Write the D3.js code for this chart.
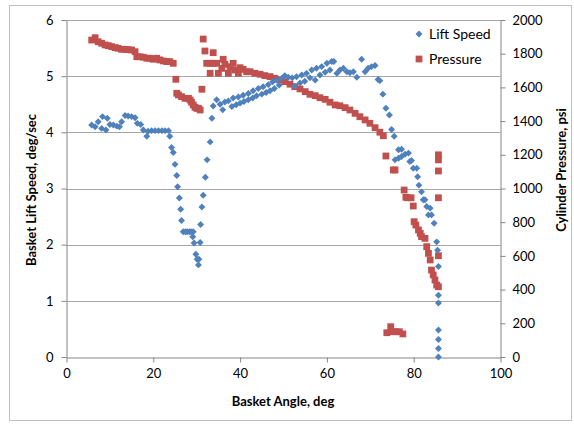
<!DOCTYPE html>
<html>
<head>
<meta charset="utf-8">
<script src="https://cdn.jsdelivr.net/npm/d3@7"></script>
<style>
  body { margin: 0; background: #fff; }
  text { font-family: Lato, "Open Sans", sans-serif; fill: #000; }
</style>
</head>
<body>
<svg width="574" height="424"></svg>
<script>
// lift speed series (deg, deg/sec)
const liftAngle = [5.8,6.6,7.3,8.1,8.3,9.1,9.4,10.0,10.8,11.6,12.2,12.7,13.5,14.2,15.0,15.8,16.3,17.1,17.7,18.5,18.8,19.6,20.4,21.2,22.0,22.7,23.5,23.8,24.2,24.6,25.0,25.4,25.6,26.0,26.3,26.5,26.9,27.4,27.8,28.3,28.7,29.2,29.1,29.4,29.8,30.1,30.5,30.4,30.8,30.9,31.2,31.5,32.0,32.4,33.1,33.5,33.8,34.6,35.4,36.0,36.5,37.3,38.1,38.4,39.1,39.6,40.0,40.7,40.9,41.9,41.9,42.9,43.0,43.8,44.2,45.0,45.3,46.0,46.5,46.9,47.5,47.9,48.4,49.0,49.6,50.3,51.1,52.0,52.6,53.0,53.8,54.2,54.9,55.3,56.1,56.5,57.3,57.6,58.4,58.8,59.6,60.0,60.7,61.1,61.6,62.3,63.0,63.8,64.6,65.3,66.1,66.9,68.0,68.8,69.5,70.3,71.1,71.8,72.2,72.9,73.6,74.4,74.9,75.5,75.7,76.5,76.5,77.2,77.2,78.0,78.8,79.1,79.5,79.9,80.7,80.9,81.2,81.8,82.2,82.6,83.0,83.4,83.8,84.1,84.7,85.3,85.5,85.7,85.7,85.7,85.7,85.7,85.7,85.7];
const liftSpeed = [4.13,4.10,4.19,4.07,4.28,4.04,4.25,4.14,4.13,4.11,4.10,4.19,4.30,4.29,4.28,4.26,4.16,4.14,4.04,3.93,4.02,4.03,4.03,4.03,4.03,4.03,4.03,3.93,3.73,3.64,3.43,3.23,3.03,2.83,2.63,2.43,2.23,2.23,2.23,2.23,2.23,2.23,2.14,2.03,1.83,1.74,1.74,1.64,2.04,2.36,2.67,2.88,3.20,3.51,3.83,4.25,4.47,4.58,4.50,4.40,4.54,4.56,4.46,4.61,4.49,4.63,4.52,4.66,4.55,4.58,4.69,4.61,4.74,4.65,4.78,4.68,4.81,4.71,4.85,4.74,4.90,4.78,4.93,4.84,4.96,5.01,4.98,4.97,4.82,4.99,4.88,5.02,4.91,5.05,4.97,5.11,4.93,5.14,5.02,5.17,5.07,5.23,5.11,5.26,5.26,5.05,5.11,5.14,5.08,5.06,5.08,4.98,5.30,5.08,5.14,5.17,5.19,4.94,4.92,4.68,4.43,4.31,4.05,3.93,3.51,3.69,3.54,3.70,3.57,3.61,3.63,3.48,3.50,3.36,3.36,3.21,3.06,2.94,2.80,2.80,2.68,2.53,2.65,2.53,2.38,2.05,1.90,1.61,1.10,0.96,0.48,0.31,0.15,0.0];

// pressure series (deg, psi)
const pressAngle = [5.8,6.6,7.3,8.1,8.9,9.6,10.4,11.2,11.9,12.7,13.5,14.2,15.0,15.8,16.2,16.9,17.7,18.5,19.2,20.0,20.8,21.5,22.3,23.1,23.8,24.6,25.2,25.4,25.8,26.5,27.3,28.1,28.5,28.8,29.2,29.6,30.0,30.4,30.8,31.2,31.5,31.9,33.8,32.3,33.1,33.1,33.8,34.6,35.0,35.8,36.1,36.5,37.3,37.7,38.4,38.8,39.6,40.0,40.7,41.5,42.3,43.4,44.6,45.7,46.9,48.0,49.2,50.3,51.5,52.6,53.8,55.0,56.1,57.3,58.4,59.6,60.7,61.9,63.0,64.2,65.3,66.5,67.6,68.8,69.9,71.1,72.2,73.0,73.6,75.3,75.7,73.8,74.7,75.3,75.9,76.7,77.5,77.8,78.2,78.6,79.4,79.9,80.1,80.5,81.1,81.5,81.8,82.6,83.0,83.4,83.8,84.1,84.5,84.9,85.3,85.7,85.7,85.7,85.7,85.7,85.7];
const pressure = [1881,1895,1871,1862,1852,1848,1842,1836,1832,1826,1826,1824,1822,1812,1782,1782,1779,1773,1773,1767,1773,1763,1757,1753,1753,1743,1648,1565,1555,1545,1535,1535,1525,1512,1496,1482,1476,1476,1466,1589,1887,1816,1806,1743,1743,1684,1743,1743,1684,1713,1767,1737,1684,1723,1743,1703,1684,1717,1707,1693,1693,1684,1678,1670,1664,1654,1644,1634,1619,1604,1591,1575,1559,1551,1539,1529,1512,1496,1491,1480,1466,1446,1426,1407,1387,1361,1334,1313,1193,1110,1110,144,180,150,150,150,137,991,948,945,945,896,803,783,754,734,714,704,655,615,576,516,487,457,427,417,1200,1170,1104,945,601];

const xTicks = [0, 20, 40, 60, 80, 100];
const leftTicks = [0, 1, 2, 3, 4, 5, 6];
const rightTicks = [0, 200, 400, 600, 800, 1000, 1200, 1400, 1600, 1800, 2000];

const blue = "#4F81BD", red = "#C0504D", axisGray = "#868686", gridGray = "#A6A6A6";

const svg = d3.select("svg");
const plotL = 66.5, plotR = 500.5, plotT = 20, plotB = 357;

// chart border
svg.append("rect").attr("x", 9.5).attr("y", 5.5).attr("width", 562).attr("height", 415)
  .attr("fill", "none").attr("stroke", "#bfbfbf");

const x = d3.scaleLinear().domain([0, 100]).range([plotL, plotR]);
const yL = d3.scaleLinear().domain([0, 6]).range([plotB, plotT]);
const yR = d3.scaleLinear().domain([0, 2000]).range([plotB, plotT]);

// gridlines
svg.append("g").selectAll("line").data(leftTicks.slice(1)).join("line")
  .attr("x1", plotL).attr("x2", plotR)
  .attr("y1", d => Math.round(yL(d)) + 0.5).attr("y2", d => Math.round(yL(d)) + 0.5)
  .attr("stroke", gridGray);

function styleAxis(g) {
  g.select(".domain").attr("stroke", axisGray);
  g.selectAll(".tick line").attr("stroke", axisGray);
  g.selectAll(".tick text").attr("font-size", 13).style("font-family", "Lato, sans-serif").attr("fill", "#000");
}

const fmt = d3.format("d");

svg.append("g").attr("transform", `translate(0,${plotB + 0.5})`)
  .call(d3.axisBottom(x).tickValues(xTicks).tickFormat(fmt).tickSize(5).tickPadding(6).tickSizeOuter(0))
  .call(styleAxis);

svg.append("g").attr("transform", `translate(${plotL},0)`)
  .call(d3.axisLeft(yL).tickValues(leftTicks).tickFormat(fmt).tickSize(5).tickPadding(8).tickSizeOuter(0))
  .call(styleAxis);

svg.append("g").attr("transform", `translate(${plotR},0)`)
  .call(d3.axisRight(yR).tickValues(rightTicks).tickFormat(fmt).tickSize(5).tickPadding(7).tickSizeOuter(0))
  .call(styleAxis);

// points
const sq = d3.symbol().type(d3.symbolSquare).size(46);
const dm = d3.symbol().type(d3.symbolSquare).size(24); // rotated 45deg below

svg.append("g").selectAll("path").data(pressAngle).join("path")
  .attr("d", sq).attr("fill", red)
  .attr("transform", (d, i) => `translate(${x(d)},${yR(pressure[i])})`);

svg.append("g").selectAll("path").data(liftAngle).join("path")
  .attr("d", dm).attr("fill", blue)
  .attr("transform", (d, i) => `translate(${x(d)},${yL(liftSpeed[i])}) rotate(45)`);

// legend
const legend = svg.append("g");
legend.append("path").attr("d", dm).attr("fill", blue).attr("transform", "translate(419,34) rotate(45)");
legend.append("text").attr("x", 429).attr("y", 34).attr("dy", "0.35em").attr("font-size", 14).text("Lift Speed");
legend.append("path").attr("d", sq).attr("fill", red).attr("transform", "translate(419,59)");
legend.append("text").attr("x", 429).attr("y", 59).attr("dy", "0.35em").attr("font-size", 14).text("Pressure");

// axis titles
svg.append("text").attr("x", 283).attr("y", 401).attr("dy", "0.35em").attr("text-anchor", "middle")
  .attr("font-size", 13).attr("font-weight", "bold").text("Basket Angle, deg");
svg.append("text").attr("transform", "translate(31,190) rotate(-90)").attr("dy", "0.35em")
  .attr("text-anchor", "middle").attr("font-size", 13).attr("font-weight", "bold")
  .text("Basket Lift Speed, deg/sec");
svg.append("text").attr("transform", "translate(561,170) rotate(-90)").attr("dy", "0.35em")
  .attr("text-anchor", "middle").attr("font-size", 13).attr("font-weight", "bold")
  .text("Cylinder Pressure, psi");
</script>
</body>
</html>
